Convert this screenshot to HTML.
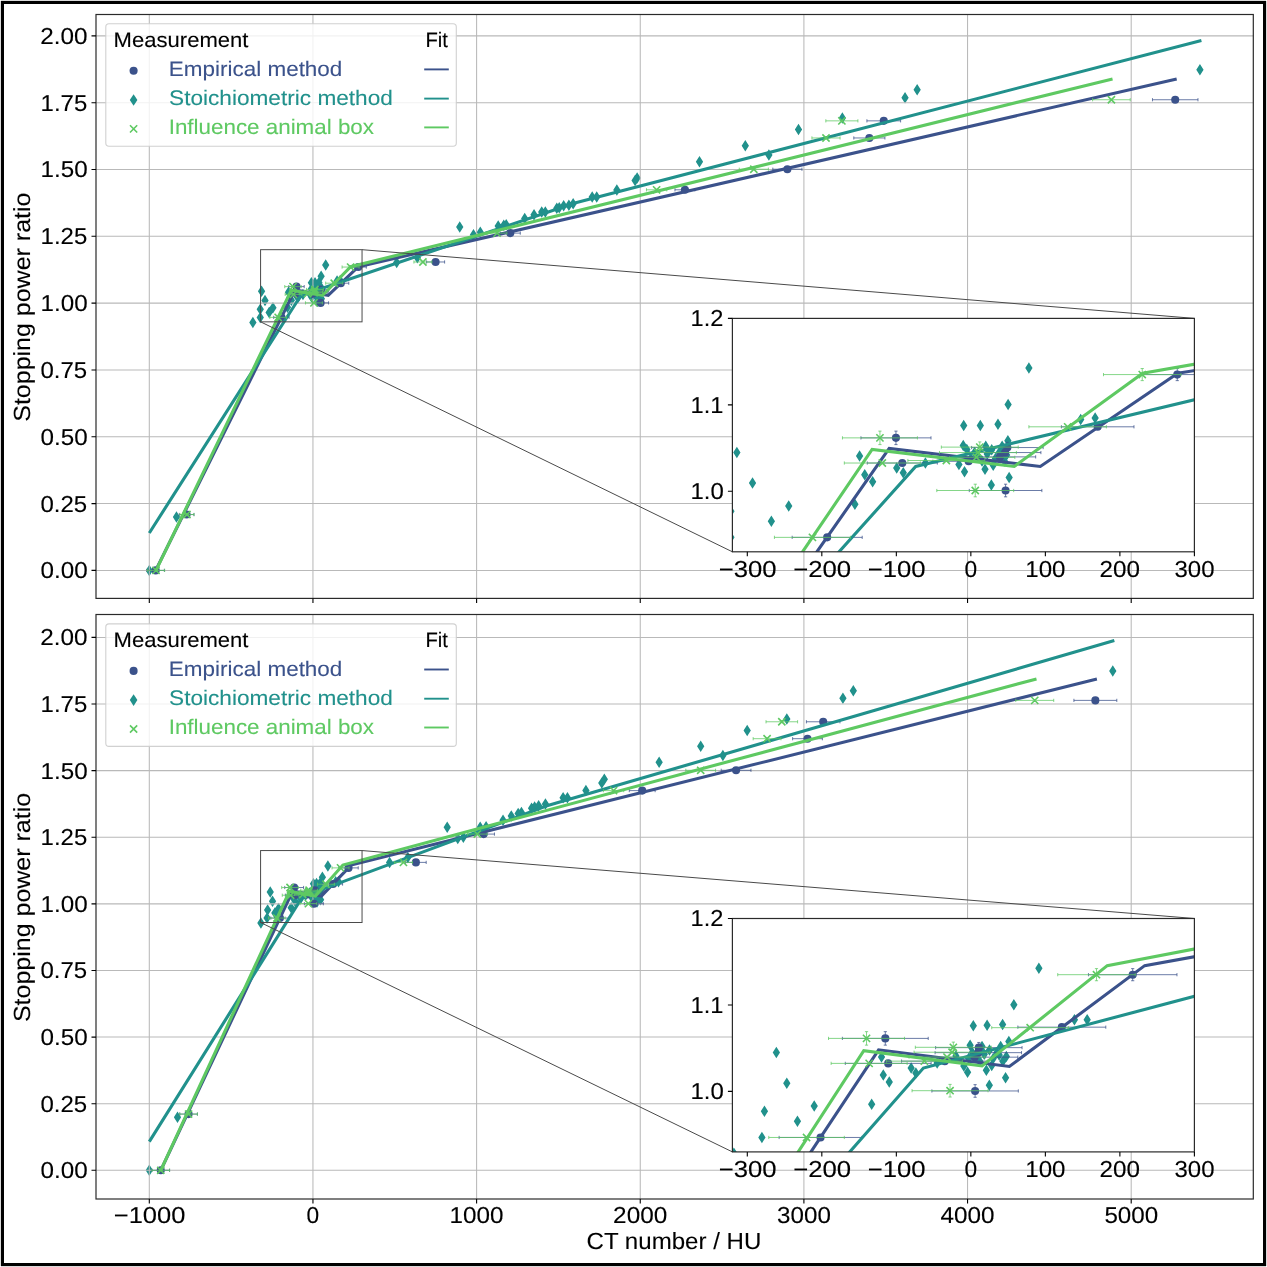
<!DOCTYPE html>
<html><head><meta charset="utf-8"><title>Stopping power ratio vs CT number</title>
<style>
html,body{margin:0;padding:0;background:#fff;}
svg{display:block;will-change:transform;}
text{font-family:"Liberation Sans",sans-serif;text-rendering:geometricPrecision;}
</style></head><body>
<svg width="1267" height="1267" viewBox="0 0 1267 1267">
<rect x="0" y="0" width="1267" height="1267" fill="#fff"/>
<defs>
<clipPath id="ax0"><rect x="96" y="14.5" width="1157.3" height="583.9"/></clipPath>
<clipPath id="in0"><rect x="732.4" y="318.4" width="462" height="233.4"/></clipPath>
<clipPath id="ax1"><rect x="96" y="614.5" width="1157.3" height="584.5"/></clipPath>
<clipPath id="in1"><rect x="732.4" y="918.5" width="462" height="233.4"/></clipPath>
</defs>
<!-- panel 1 -->
<g clip-path="url(#ax0)"><path d="M149.3 564.65l3.65 5.75l-3.65 5.75l-3.65 -5.75zM176.47 511.2l3.65 5.75l-3.65 5.75l-3.65 -5.75zM252.89 316.76l3.65 5.75l-3.65 5.75l-3.65 -5.75zM260.25 311.63l3.65 5.75l-3.65 5.75l-3.65 -5.75zM260.25 303.55l3.65 5.75l-3.65 5.75l-3.65 -5.75zM269.14 306.63l3.65 5.75l-3.65 5.75l-3.65 -5.75zM272.95 301.92l3.65 5.75l-3.65 5.75l-3.65 -5.75zM265 294.84l3.65 5.75l-3.65 5.75l-3.65 -5.75zM261.56 285.38l3.65 5.75l-3.65 5.75l-3.65 -5.75zM288.52 286.48l3.65 5.75l-3.65 5.75l-3.65 -5.75zM289.65 292.3l3.65 5.75l-3.65 5.75l-3.65 -5.75zM291.38 294.44l3.65 5.75l-3.65 5.75l-3.65 -5.75zM287.49 301.39l3.65 5.75l-3.65 5.75l-3.65 -5.75zM296.67 290.16l3.65 5.75l-3.65 5.75l-3.65 -5.75zM298.11 291.66l3.65 5.75l-3.65 5.75l-3.65 -5.75zM302.97 288.64l3.65 5.75l-3.65 5.75l-3.65 -5.75zM325.7 259.29l3.65 5.75l-3.65 5.75l-3.65 -5.75zM321.13 270.57l3.65 5.75l-3.65 5.75l-3.65 -5.75zM311.38 277.04l3.65 5.75l-3.65 5.75l-3.65 -5.75zM315.03 277.04l3.65 5.75l-3.65 5.75l-3.65 -5.75zM318.91 276.64l3.65 5.75l-3.65 5.75l-3.65 -5.75zM321.08 281.77l3.65 5.75l-3.65 5.75l-3.65 -5.75zM311.28 283.21l3.65 5.75l-3.65 5.75l-3.65 -5.75zM312.07 284.44l3.65 5.75l-3.65 5.75l-3.65 -5.75zM310.33 289.09l3.65 5.75l-3.65 5.75l-3.65 -5.75zM311.56 291.37l3.65 5.75l-3.65 5.75l-3.65 -5.75zM316.06 290.54l3.65 5.75l-3.65 5.75l-3.65 -5.75zM317.45 295.43l3.65 5.75l-3.65 5.75l-3.65 -5.75zM321.36 293.1l3.65 5.75l-3.65 5.75l-3.65 -5.75zM313.77 285.35l3.65 5.75l-3.65 5.75l-3.65 -5.75zM314.59 286.69l3.65 5.75l-3.65 5.75l-3.65 -5.75zM315.4 288.03l3.65 5.75l-3.65 5.75l-3.65 -5.75zM316.55 285.89l3.65 5.75l-3.65 5.75l-3.65 -5.75zM317.53 284.55l3.65 5.75l-3.65 5.75l-3.65 -5.75zM318.35 287.22l3.65 5.75l-3.65 5.75l-3.65 -5.75zM319.17 285.35l3.65 5.75l-3.65 5.75l-3.65 -5.75zM319.82 283.48l3.65 5.75l-3.65 5.75l-3.65 -5.75zM320.31 288.03l3.65 5.75l-3.65 5.75l-3.65 -5.75zM317.86 289.36l3.65 5.75l-3.65 5.75l-3.65 -5.75zM316.22 283.48l3.65 5.75l-3.65 5.75l-3.65 -5.75zM312.95 287.22l3.65 5.75l-3.65 5.75l-3.65 -5.75zM320.81 286.15l3.65 5.75l-3.65 5.75l-3.65 -5.75zM337.07 275.2l3.65 5.75l-3.65 5.75l-3.65 -5.75zM340.25 274.74l3.65 5.75l-3.65 5.75l-3.65 -5.75zM396.71 256.86l3.65 5.75l-3.65 5.75l-3.65 -5.75zM417.36 251.94l3.65 5.75l-3.65 5.75l-3.65 -5.75zM459.74 221.21l3.65 5.75l-3.65 5.75l-3.65 -5.75zM473.49 229.07l3.65 5.75l-3.65 5.75l-3.65 -5.75zM480.3 226.55l3.65 5.75l-3.65 5.75l-3.65 -5.75zM498.2 220.25l3.65 5.75l-3.65 5.75l-3.65 -5.75zM503.77 219.44l3.65 5.75l-3.65 5.75l-3.65 -5.75zM506.22 218.94l3.65 5.75l-3.65 5.75l-3.65 -5.75zM524.71 212.66l3.65 5.75l-3.65 5.75l-3.65 -5.75zM534.04 208.91l3.65 5.75l-3.65 5.75l-3.65 -5.75zM541.73 206.35l3.65 5.75l-3.65 5.75l-3.65 -5.75zM545.33 206.35l3.65 5.75l-3.65 5.75l-3.65 -5.75zM556.79 202.55l3.65 5.75l-3.65 5.75l-3.65 -5.75zM559.24 202.04l3.65 5.75l-3.65 5.75l-3.65 -5.75zM563.66 200.09l3.65 5.75l-3.65 5.75l-3.65 -5.75zM568.9 199.56l3.65 5.75l-3.65 5.75l-3.65 -5.75zM573.15 198.06l3.65 5.75l-3.65 5.75l-3.65 -5.75zM592.2 191.14l3.65 5.75l-3.65 5.75l-3.65 -5.75zM596.72 191.14l3.65 5.75l-3.65 5.75l-3.65 -5.75zM616.85 184.32l3.65 5.75l-3.65 5.75l-3.65 -5.75zM635.1 174.76l3.65 5.75l-3.65 5.75l-3.65 -5.75zM637.14 172.3l3.65 5.75l-3.65 5.75l-3.65 -5.75zM699.49 156.05l3.65 5.75l-3.65 5.75l-3.65 -5.75zM745.31 139.96l3.65 5.75l-3.65 5.75l-3.65 -5.75zM768.88 149.31l3.65 5.75l-3.65 5.75l-3.65 -5.75zM798.5 123.65l3.65 5.75l-3.65 5.75l-3.65 -5.75zM842.36 112.16l3.65 5.75l-3.65 5.75l-3.65 -5.75zM905.04 91.96l3.65 5.75l-3.65 5.75l-3.65 -5.75zM917.15 84.1l3.65 5.75l-3.65 5.75l-3.65 -5.75zM1199.93 64.05l3.65 5.75l-3.65 5.75l-3.65 -5.75z" fill="#21918c"/></g>
<path d="M149.3 14.5V598.4M312.95 14.5V598.4M476.6 14.5V598.4M640.25 14.5V598.4M803.9 14.5V598.4M967.55 14.5V598.4M1131.2 14.5V598.4M96 570.4H1253.3M96 503.58H1253.3M96 436.76H1253.3M96 369.95H1253.3M96 303.13H1253.3M96 236.31H1253.3M96 169.5H1253.3M96 102.68H1253.3M96 35.86H1253.3" stroke="#b9b9b9" stroke-width="1.05" fill="none"/>
<g clip-path="url(#ax0)">
<path d="M147.01 570.4H164.36M147.01 568.8V572M164.36 568.8V572M179.25 514.54H193.98M179.25 512.94V516.14M193.98 512.94V516.14M273.71 317.38H289.09M273.71 315.78V318.98M289.09 315.78V318.98M288.81 286.61H304.19M288.81 285.01V288.21M304.19 285.01V288.21M290.2 294.39H305.59M290.2 292.79V295.99M305.59 292.79V295.99M313.11 289.61H328.82M313.11 288.01V291.21M328.82 288.01V291.21M312.62 291.16H328.33M312.62 289.56V292.76M328.33 289.56V292.76M311.48 292.49H327.19M311.48 290.89V294.09M327.19 290.89V294.09M312.61 302.89H328.55M312.61 301.29V304.49M328.55 301.29V304.49M304.6 293.86H320.31M304.6 292.26V295.46M320.31 292.26V295.46M332.83 283.19H348.77M332.83 281.59V284.79M348.77 281.59V284.79M350.26 267.05H366.3M350.26 265.45V268.65M366.3 265.45V268.65M426.6 261.97H444.61M426.6 260.37V263.57M444.61 260.37V263.57M500.33 233.11H520.29M500.33 231.51V234.71M520.29 231.51V234.71M674.94 189.81H694.91M674.94 188.21V191.41M694.91 188.21V191.41M772.81 169.23H801.94M772.81 167.63V170.83M801.94 167.63V170.83M853.81 137.96H884.91M853.81 136.36V139.56M884.91 136.36V139.56M866.91 120.85H900.62M866.91 119.25V122.45M900.62 119.25V122.45M1152.47 99.74H1197.97M1152.47 98.14V101.34M1197.97 98.14V101.34" stroke="#3b528b" stroke-width="0.95" fill="none" stroke-opacity="0.8"/>
<g fill="#3b528b"><circle cx="155.68" cy="570.4" r="4.05"/><circle cx="186.61" cy="514.54" r="4.05"/><circle cx="281.4" cy="317.38" r="4.05"/><circle cx="296.5" cy="286.61" r="4.05"/><circle cx="297.89" cy="294.39" r="4.05"/><circle cx="320.97" cy="289.61" r="4.05"/><circle cx="320.48" cy="291.16" r="4.05"/><circle cx="319.33" cy="292.49" r="4.05"/><circle cx="320.58" cy="302.89" r="4.05"/><circle cx="312.46" cy="293.86" r="4.05"/><circle cx="340.8" cy="283.19" r="4.05"/><circle cx="358.28" cy="267.05" r="4.05"/><circle cx="435.61" cy="261.97" r="4.05"/><circle cx="510.31" cy="233.11" r="4.05"/><circle cx="684.93" cy="189.81" r="4.05"/><circle cx="787.37" cy="169.23" r="4.05"/><circle cx="869.36" cy="137.96" r="4.05"/><circle cx="883.76" cy="120.85" r="4.05"/><circle cx="1175.22" cy="99.74" r="4.05"/></g>
<polyline points="155.68,570.4 295.01,289.87 328.2,295.46 358.4,266.65 1176.69,78.89" fill="none" stroke="#3b528b" stroke-width="3.1" stroke-linejoin="miter" stroke-linecap="butt"/>
<polyline points="149.3,532.98 300.84,295.46 574.79,203.04 1201.41,40.4" fill="none" stroke="#21918c" stroke-width="3.1" stroke-linejoin="miter" stroke-linecap="butt"/>
<path d="M147.34 570.4H164.68M147.34 568.8V572M164.68 568.8V572M179.9 514.54H193.98M179.9 512.94V516.14M193.98 512.94V516.14M269.81 317.38H286.5M269.81 315.78V318.98M286.5 315.78V318.98M284.75 286.61H301.22M284.75 285.01V288.21M301.22 285.01V288.21M285.16 294.39H301.85M285.16 292.79V295.99M301.85 292.79V295.99M306.47 289.47H323.36M306.47 287.87V291.07M323.36 287.87V291.07M306.06 291.16H322.95M306.06 289.56V292.76M322.95 289.56V292.76M305.72 292.63H322.61M305.72 291.03V294.23M322.61 291.03V294.23M305.47 302.89H322.36M305.47 301.29V304.49M322.36 301.29V304.49M299.12 293.62H316.01M299.12 292.02V295.22M316.01 292.02V295.22M325.7 283.19H342.72M325.7 281.59V284.79M342.72 281.59V284.79M342.08 267.05H359.1M342.08 265.45V268.65M359.1 265.45V268.65M413.92 261.97H431.92M413.92 260.37V263.57M431.92 260.37V263.57M487.24 233.11H506.88M487.24 231.51V234.71M506.88 231.51V234.71M646.47 189.81H666.76M646.47 188.21V191.41M666.76 188.21V191.41M739.26 169.23H768.39M739.26 167.63V170.83M768.39 167.63V170.83M811.92 137.96H840.07M811.92 136.36V139.56M840.07 136.36V139.56M825.83 120.85H857.9M825.83 119.25V122.45M857.9 119.25V122.45M1092.58 99.74H1130.22M1092.58 98.14V101.34M1130.22 98.14V101.34" stroke="#5ec962" stroke-width="0.95" fill="none" stroke-opacity="0.8"/>
<path d="M152.41 566.8l7.2 7.2m0 -7.2l-7.2 7.2M183.34 510.94l7.2 7.2m0 -7.2l-7.2 7.2M274.56 313.78l7.2 7.2m0 -7.2l-7.2 7.2M289.38 283.01l7.2 7.2m0 -7.2l-7.2 7.2M289.91 290.79l7.2 7.2m0 -7.2l-7.2 7.2M311.31 285.87l7.2 7.2m0 -7.2l-7.2 7.2M310.9 287.56l7.2 7.2m0 -7.2l-7.2 7.2M310.56 289.03l7.2 7.2m0 -7.2l-7.2 7.2M310.32 299.29l7.2 7.2m0 -7.2l-7.2 7.2M303.97 290.02l7.2 7.2m0 -7.2l-7.2 7.2M330.61 279.59l7.2 7.2m0 -7.2l-7.2 7.2M346.99 263.45l7.2 7.2m0 -7.2l-7.2 7.2M419.32 258.37l7.2 7.2m0 -7.2l-7.2 7.2M493.46 229.51l7.2 7.2m0 -7.2l-7.2 7.2M653.01 186.21l7.2 7.2m0 -7.2l-7.2 7.2M750.22 165.63l7.2 7.2m0 -7.2l-7.2 7.2M822.39 134.36l7.2 7.2m0 -7.2l-7.2 7.2M838.27 117.25l7.2 7.2m0 -7.2l-7.2 7.2M1107.8 96.14l7.2 7.2m0 -7.2l-7.2 7.2" stroke="#5ec962" stroke-width="1.6" fill="none"/>
<polyline points="156.01,570.4 291.27,290.19 322.47,295.46 350.69,266.65 1112.54,78.89" fill="none" stroke="#5ec962" stroke-width="3.1" stroke-linejoin="miter" stroke-linecap="butt"/>
</g>
<g stroke="#4a4a4a" stroke-width="1" fill="none">
<rect x="260.58" y="249.68" width="101.46" height="72.16"/>
<path d="M362.04 249.68L1194.4 318.4M260.58 321.84L732.4 551.8"/>
</g>
<rect x="96" y="14.5" width="1157.3" height="583.9" fill="none" stroke="#2a2a2a" stroke-width="1.2"/>
<path d="M149.3 598.4v4.5M312.95 598.4v4.5M476.6 598.4v4.5M640.25 598.4v4.5M803.9 598.4v4.5M967.55 598.4v4.5M1131.2 598.4v4.5M96 570.4h-4.5M96 503.58h-4.5M96 436.76h-4.5M96 369.95h-4.5M96 303.13h-4.5M96 236.31h-4.5M96 169.5h-4.5M96 102.68h-4.5M96 35.86h-4.5" stroke="#000" stroke-width="1.1" fill="none"/>
<text x="40.48" y="578.35" font-size="23.03" fill="#000" stroke="#000" stroke-width="0.1" textLength="47.13" lengthAdjust="spacingAndGlyphs">0.00</text>
<text x="40.49" y="511.53" font-size="23.03" fill="#000" stroke="#000" stroke-width="0.1" textLength="46.73" lengthAdjust="spacingAndGlyphs">0.25</text>
<text x="40.48" y="444.71" font-size="23.03" fill="#000" stroke="#000" stroke-width="0.1" textLength="47.13" lengthAdjust="spacingAndGlyphs">0.50</text>
<text x="40.49" y="377.9" font-size="23.03" fill="#000" stroke="#000" stroke-width="0.1" textLength="46.73" lengthAdjust="spacingAndGlyphs">0.75</text>
<text x="40.53" y="311.08" font-size="23.03" fill="#000" stroke="#000" stroke-width="0.1" textLength="47.08" lengthAdjust="spacingAndGlyphs">1.00</text>
<text x="40.55" y="244.26" font-size="23.03" fill="#000" stroke="#000" stroke-width="0.1" textLength="46.67" lengthAdjust="spacingAndGlyphs">1.25</text>
<text x="40.53" y="177.44" font-size="23.03" fill="#000" stroke="#000" stroke-width="0.1" textLength="47.08" lengthAdjust="spacingAndGlyphs">1.50</text>
<text x="40.55" y="110.63" font-size="23.03" fill="#000" stroke="#000" stroke-width="0.1" textLength="46.67" lengthAdjust="spacingAndGlyphs">1.75</text>
<text x="40.37" y="43.81" font-size="23.03" fill="#000" stroke="#000" stroke-width="0.1" textLength="47.25" lengthAdjust="spacingAndGlyphs">2.00</text>
<text x="-114.52" y="0" font-size="23.35" fill="#000" stroke="#000" stroke-width="0.1" textLength="229.21" lengthAdjust="spacingAndGlyphs" transform="translate(30.3 307.25) rotate(-90)">Stopping power ratio</text>
<rect x="105.8" y="23.8" width="350.5" height="122.5" rx="3.2" fill="#fff" fill-opacity="0.8" stroke="#cccccc" stroke-opacity="0.9" stroke-width="1.1"/>
<text x="113.62" y="46.8" font-size="21" fill="#000" stroke="#000" stroke-width="0.1" textLength="134.8" lengthAdjust="spacingAndGlyphs">Measurement</text>
<text x="425.47" y="46.8" font-size="21" fill="#000" stroke="#000" stroke-width="0.1" textLength="22.51" lengthAdjust="spacingAndGlyphs">Fit</text>
<text x="168.89" y="75.6" font-size="21" fill="#3b528b" stroke="#3b528b" stroke-width="0.1" textLength="173.47" lengthAdjust="spacingAndGlyphs">Empirical method</text>
<path d="M424.2 69.4H448.8" stroke="#3b528b" stroke-width="1.9"/>
<text x="169.07" y="104.8" font-size="21" fill="#21918c" stroke="#21918c" stroke-width="0.1" textLength="223.77" lengthAdjust="spacingAndGlyphs">Stoichiometric method</text>
<path d="M424.2 98.6H448.8" stroke="#21918c" stroke-width="1.9"/>
<text x="168.67" y="134" font-size="21" fill="#5ec962" stroke="#5ec962" stroke-width="0.1" textLength="205.37" lengthAdjust="spacingAndGlyphs">Influence animal box</text>
<path d="M424.2 127.4H448.8" stroke="#5ec962" stroke-width="1.9"/>
<circle cx="133.6" cy="70.8" r="4.05" fill="#3b528b"/>
<path d="M133.6 94.15l3.8 5.85l-3.8 5.85l-3.8 -5.85z" fill="#21918c"/>
<path d="M130 125.3l7.2 7.2m0 -7.2l-7.2 7.2" stroke="#5ec962" stroke-width="1.6" fill="none"/>
<rect x="732.4" y="318.4" width="462" height="233.4" fill="#fff"/>
<g clip-path="url(#in0)">
<path d="M225.69 1349.98l3.65 5.75l-3.65 5.75l-3.65 -5.75zM349.39 1177.09l3.65 5.75l-3.65 5.75l-3.65 -5.75zM697.38 548.21l3.65 5.75l-3.65 5.75l-3.65 -5.75zM730.91 531.61l3.65 5.75l-3.65 5.75l-3.65 -5.75zM730.91 505.51l3.65 5.75l-3.65 5.75l-3.65 -5.75zM771.37 515.45l3.65 5.75l-3.65 5.75l-3.65 -5.75zM788.73 500.23l3.65 5.75l-3.65 5.75l-3.65 -5.75zM752.52 477.33l3.65 5.75l-3.65 5.75l-3.65 -5.75zM736.87 446.73l3.65 5.75l-3.65 5.75l-3.65 -5.75zM859.6 450.27l3.65 5.75l-3.65 5.75l-3.65 -5.75zM864.74 469.11l3.65 5.75l-3.65 5.75l-3.65 -5.75zM872.64 476.03l3.65 5.75l-3.65 5.75l-3.65 -5.75zM854.9 498.51l3.65 5.75l-3.65 5.75l-3.65 -5.75zM896.71 462.2l3.65 5.75l-3.65 5.75l-3.65 -5.75zM903.27 467.04l3.65 5.75l-3.65 5.75l-3.65 -5.75zM925.4 457.27l3.65 5.75l-3.65 5.75l-3.65 -5.75zM1028.9 362.36l3.65 5.75l-3.65 5.75l-3.65 -5.75zM1008.11 398.84l3.65 5.75l-3.65 5.75l-3.65 -5.75zM963.7 419.75l3.65 5.75l-3.65 5.75l-3.65 -5.75zM980.32 419.75l3.65 5.75l-3.65 5.75l-3.65 -5.75zM997.98 418.46l3.65 5.75l-3.65 5.75l-3.65 -5.75zM1007.89 435.06l3.65 5.75l-3.65 5.75l-3.65 -5.75zM963.25 439.72l3.65 5.75l-3.65 5.75l-3.65 -5.75zM966.83 443.7l3.65 5.75l-3.65 5.75l-3.65 -5.75zM958.93 458.74l3.65 5.75l-3.65 5.75l-3.65 -5.75zM964.52 466.09l3.65 5.75l-3.65 5.75l-3.65 -5.75zM985.01 463.41l3.65 5.75l-3.65 5.75l-3.65 -5.75zM991.34 479.23l3.65 5.75l-3.65 5.75l-3.65 -5.75zM1009.15 471.71l3.65 5.75l-3.65 5.75l-3.65 -5.75zM974.58 446.64l3.65 5.75l-3.65 5.75l-3.65 -5.75zM978.3 450.96l3.65 5.75l-3.65 5.75l-3.65 -5.75zM982.03 455.28l3.65 5.75l-3.65 5.75l-3.65 -5.75zM987.25 448.37l3.65 5.75l-3.65 5.75l-3.65 -5.75zM991.72 444.05l3.65 5.75l-3.65 5.75l-3.65 -5.75zM995.44 452.69l3.65 5.75l-3.65 5.75l-3.65 -5.75zM999.17 446.64l3.65 5.75l-3.65 5.75l-3.65 -5.75zM1002.15 440.59l3.65 5.75l-3.65 5.75l-3.65 -5.75zM1004.38 455.28l3.65 5.75l-3.65 5.75l-3.65 -5.75zM993.21 459.61l3.65 5.75l-3.65 5.75l-3.65 -5.75zM985.75 440.59l3.65 5.75l-3.65 5.75l-3.65 -5.75zM970.85 452.69l3.65 5.75l-3.65 5.75l-3.65 -5.75zM1006.62 449.23l3.65 5.75l-3.65 5.75l-3.65 -5.75zM1080.69 413.79l3.65 5.75l-3.65 5.75l-3.65 -5.75zM1095.14 412.32l3.65 5.75l-3.65 5.75l-3.65 -5.75zM1352.23 354.49l3.65 5.75l-3.65 5.75l-3.65 -5.75zM1446.26 338.58l3.65 5.75l-3.65 5.75l-3.65 -5.75zM1639.26 239.17l3.65 5.75l-3.65 5.75l-3.65 -5.75zM1701.85 264.59l3.65 5.75l-3.65 5.75l-3.65 -5.75zM1732.85 256.46l3.65 5.75l-3.65 5.75l-3.65 -5.75zM1814.37 236.06l3.65 5.75l-3.65 5.75l-3.65 -5.75zM1839.71 233.47l3.65 5.75l-3.65 5.75l-3.65 -5.75zM1850.89 231.82l3.65 5.75l-3.65 5.75l-3.65 -5.75zM1935.09 211.51l3.65 5.75l-3.65 5.75l-3.65 -5.75zM1977.56 199.41l3.65 5.75l-3.65 5.75l-3.65 -5.75zM2012.59 191.11l3.65 5.75l-3.65 5.75l-3.65 -5.75zM2028.98 191.11l3.65 5.75l-3.65 5.75l-3.65 -5.75zM2081.14 178.83l3.65 5.75l-3.65 5.75l-3.65 -5.75zM2092.32 177.19l3.65 5.75l-3.65 5.75l-3.65 -5.75zM2112.44 170.88l3.65 5.75l-3.65 5.75l-3.65 -5.75zM2136.28 169.15l3.65 5.75l-3.65 5.75l-3.65 -5.75zM2155.66 164.31l3.65 5.75l-3.65 5.75l-3.65 -5.75zM2242.39 141.92l3.65 5.75l-3.65 5.75l-3.65 -5.75zM2262.96 141.92l3.65 5.75l-3.65 5.75l-3.65 -5.75zM2354.62 119.88l3.65 5.75l-3.65 5.75l-3.65 -5.75zM2437.7 88.93l3.65 5.75l-3.65 5.75l-3.65 -5.75zM2447.02 80.98l3.65 5.75l-3.65 5.75l-3.65 -5.75zM2730.92 28.42l3.65 5.75l-3.65 5.75l-3.65 -5.75zM2939.57 -23.62l3.65 5.75l-3.65 5.75l-3.65 -5.75zM3046.87 6.64l3.65 5.75l-3.65 5.75l-3.65 -5.75zM3181.75 -76.35l3.65 5.75l-3.65 5.75l-3.65 -5.75zM3381.45 -113.52l3.65 5.75l-3.65 5.75l-3.65 -5.75zM3666.85 -178.87l3.65 5.75l-3.65 5.75l-3.65 -5.75zM3721.99 -204.29l3.65 5.75l-3.65 5.75l-3.65 -5.75zM5009.63 -269.12l3.65 5.75l-3.65 5.75l-3.65 -5.75z" fill="#21918c"/>
<path d="M215.26 1355.73H294.25M215.26 1354.13V1357.33M294.25 1354.13V1357.33M362.05 1175.06H429.12M362.05 1173.46V1176.66M429.12 1173.46V1176.66M792.16 537.36H862.21M792.16 535.76V538.96M862.21 535.76V538.96M860.94 437.87H930.99M860.94 436.27V439.47M930.99 436.27V439.47M895.96 431.12V444.61M894.36 431.12H897.56M894.36 444.61H897.56M867.27 463.02H937.32M867.27 461.42V464.62M937.32 461.42V464.62M971.6 447.55H1043.13M971.6 445.95V449.15M1043.13 445.95V449.15M1007.36 442.36V452.73M1005.76 442.36H1008.96M1005.76 452.73H1008.96M969.36 452.56H1040.9M969.36 450.96V454.16M1040.9 450.96V454.16M964.15 456.88H1035.68M964.15 455.28V458.48M1035.68 455.28V458.48M969.29 490.51H1041.87M969.29 488.91V492.11M1041.87 488.91V492.11M1005.58 484.2V496.82M1003.98 484.2H1007.18M1003.98 496.82H1007.18M932.85 461.29H1004.38M932.85 459.69V462.89M1004.38 459.69V462.89M1061.39 426.8H1133.97M1061.39 425.2V428.4M1133.97 425.2V428.4M1140.75 374.59H1213.77M1140.75 372.99V376.19M1213.77 372.99V376.19M1177.26 368.54V380.64M1175.66 368.54H1178.86M1175.66 380.64H1178.86M1488.37 358.16H1570.33M1488.37 356.56V359.76M1570.33 356.56V359.76M1824.06 264.8H1914.97M1824.06 263.2V266.4M1914.97 263.2V266.4M2619.15 124.76H2710.06M2619.15 123.16V126.36M2710.06 123.16V126.36M3064.75 58.2H3197.39M3064.75 56.6V59.8M3197.39 56.6V59.8M3433.61 -42.94H3575.19M3433.61 -44.54V-41.34M3575.19 -44.54V-41.34M3493.22 -98.26H3646.73M3493.22 -99.86V-96.66M3646.73 -99.86V-96.66M4793.53 -166.55H5000.68M4793.53 -168.15V-164.95M5000.68 -168.15V-164.95" stroke="#3b528b" stroke-width="0.95" fill="none" stroke-opacity="0.8"/>
<g fill="#3b528b"><circle cx="254.75" cy="1355.73" r="4.05"/><circle cx="395.59" cy="1175.06" r="4.05"/><circle cx="827.18" cy="537.36" r="4.05"/><circle cx="895.96" cy="437.87" r="4.05"/><circle cx="902.3" cy="463.02" r="4.05"/><circle cx="1007.36" cy="447.55" r="4.05"/><circle cx="1005.13" cy="452.56" r="4.05"/><circle cx="999.91" cy="456.88" r="4.05"/><circle cx="1005.58" cy="490.51" r="4.05"/><circle cx="968.62" cy="461.29" r="4.05"/><circle cx="1097.68" cy="426.8" r="4.05"/><circle cx="1177.26" cy="374.59" r="4.05"/><circle cx="1529.35" cy="358.16" r="4.05"/><circle cx="1869.52" cy="264.8" r="4.05"/><circle cx="2664.6" cy="124.76" r="4.05"/><circle cx="3131.07" cy="58.2" r="4.05"/><circle cx="3504.4" cy="-42.94" r="4.05"/><circle cx="3569.97" cy="-98.26" r="4.05"/><circle cx="4897.11" cy="-166.55" r="4.05"/></g>
<polyline points="254.75,1355.73 889.18,448.41 1040.3,466.48 1177.78,373.29 4903.81,-233.98" fill="none" stroke="#3b528b" stroke-width="3.1" stroke-linejoin="miter" stroke-linecap="butt"/>
<polyline points="225.69,1234.71 915.71,466.48 2163.11,167.55 5016.33,-358.46" fill="none" stroke="#21918c" stroke-width="3.1" stroke-linejoin="miter" stroke-linecap="butt"/>
<path d="M216.75 1355.73H295.74M216.75 1354.13V1357.33M295.74 1354.13V1357.33M365.04 1175.06H429.12M365.04 1173.46V1176.66M429.12 1173.46V1176.66M774.43 537.36H850.43M774.43 535.76V538.96M850.43 535.76V538.96M842.46 437.87H917.42M842.46 436.27V439.47M917.42 436.27V439.47M879.94 431.12V444.61M878.34 431.12H881.54M878.34 444.61H881.54M844.32 463.02H920.33M844.32 461.42V464.62M920.33 461.42V464.62M941.34 447.12H1018.24M941.34 445.52V448.72M1018.24 445.52V448.72M979.79 441.93V452.3M978.19 441.93H981.39M978.19 452.3H981.39M939.48 452.56H1016.38M939.48 450.96V454.16M1016.38 450.96V454.16M937.92 457.32H1014.82M937.92 455.72V458.92M1014.82 455.72V458.92M936.8 490.51H1013.7M936.8 488.91V492.11M1013.7 488.91V492.11M975.25 484.2V496.82M973.65 484.2H976.85M973.65 496.82H976.85M907.89 460.51H984.79M907.89 458.91V462.11M984.79 458.91V462.11M1028.9 426.8H1106.4M1028.9 425.2V428.4M1106.4 425.2V428.4M1103.49 374.59H1180.99M1103.49 372.99V376.19M1180.99 372.99V376.19M1142.24 368.54V380.64M1140.64 368.54H1143.84M1140.64 380.64H1143.84M1430.62 358.16H1512.58M1430.62 356.56V359.76M1512.58 356.56V359.76M1764.45 264.8H1853.87M1764.45 263.2V266.4M1853.87 263.2V266.4M2489.49 124.76H2581.89M2489.49 123.16V126.36M2581.89 123.16V126.36M2912 58.2H3044.64M2912 56.6V59.8M3044.64 56.6V59.8M3242.85 -42.94H3371.02M3242.85 -44.54V-41.34M3371.02 -44.54V-41.34M3306.19 -98.26H3452.24M3306.19 -99.86V-96.66M3452.24 -99.86V-96.66M4520.8 -166.55H4692.19M4520.8 -168.15V-164.95M4692.19 -168.15V-164.95" stroke="#5ec962" stroke-width="0.95" fill="none" stroke-opacity="0.8"/>
<path d="M252.64 1352.13l7.2 7.2m0 -7.2l-7.2 7.2M393.48 1171.46l7.2 7.2m0 -7.2l-7.2 7.2M808.83 533.76l7.2 7.2m0 -7.2l-7.2 7.2M876.34 434.27l7.2 7.2m0 -7.2l-7.2 7.2M878.73 459.42l7.2 7.2m0 -7.2l-7.2 7.2M976.19 443.52l7.2 7.2m0 -7.2l-7.2 7.2M974.33 448.96l7.2 7.2m0 -7.2l-7.2 7.2M972.77 453.72l7.2 7.2m0 -7.2l-7.2 7.2M971.65 486.91l7.2 7.2m0 -7.2l-7.2 7.2M942.74 456.91l7.2 7.2m0 -7.2l-7.2 7.2M1064.05 423.2l7.2 7.2m0 -7.2l-7.2 7.2M1138.64 370.99l7.2 7.2m0 -7.2l-7.2 7.2M1468 354.56l7.2 7.2m0 -7.2l-7.2 7.2M1805.56 261.2l7.2 7.2m0 -7.2l-7.2 7.2M2532.09 121.16l7.2 7.2m0 -7.2l-7.2 7.2M2974.72 54.6l7.2 7.2m0 -7.2l-7.2 7.2M3303.33 -46.54l7.2 7.2m0 -7.2l-7.2 7.2M3375.61 -101.86l7.2 7.2m0 -7.2l-7.2 7.2M4602.89 -170.15l7.2 7.2m0 -7.2l-7.2 7.2" stroke="#5ec962" stroke-width="1.6" fill="none"/>
<polyline points="256.24,1355.73 872.12,449.45 1014.22,466.48 1142.69,373.29 4611.71,-233.98" fill="none" stroke="#5ec962" stroke-width="3.1" stroke-linejoin="miter" stroke-linecap="butt"/>
</g>
<rect x="732.4" y="318.4" width="462" height="233.4" fill="none" stroke="#2b2b2b" stroke-width="1.2"/>
<path d="M747.3 551.8v4.5M821.82 551.8v4.5M896.34 551.8v4.5M970.85 551.8v4.5M1045.37 551.8v4.5M1119.88 551.8v4.5M1194.4 551.8v4.5M732.4 491.29h-4.5M732.4 404.84h-4.5M732.4 318.4h-4.5" stroke="#000" stroke-width="1.1" fill="none"/>
<text x="718.66" y="576.5" font-size="23.03" fill="#000" stroke="#000" stroke-width="0.1" textLength="57.88" lengthAdjust="spacingAndGlyphs">−300</text>
<text x="793.18" y="576.5" font-size="23.03" fill="#000" stroke="#000" stroke-width="0.1" textLength="57.88" lengthAdjust="spacingAndGlyphs">−200</text>
<text x="867.69" y="576.5" font-size="23.03" fill="#000" stroke="#000" stroke-width="0.1" textLength="57.88" lengthAdjust="spacingAndGlyphs">−100</text>
<text x="964.51" y="576.5" font-size="23.03" fill="#000" stroke="#000" stroke-width="0.1" textLength="12.66" lengthAdjust="spacingAndGlyphs">0</text>
<text x="1025.29" y="576.5" font-size="23.03" fill="#000" stroke="#000" stroke-width="0.1" textLength="40.2" lengthAdjust="spacingAndGlyphs">100</text>
<text x="1099.64" y="576.5" font-size="23.03" fill="#000" stroke="#000" stroke-width="0.1" textLength="40.38" lengthAdjust="spacingAndGlyphs">200</text>
<text x="1174.52" y="576.5" font-size="23.03" fill="#000" stroke="#000" stroke-width="0.1" textLength="40" lengthAdjust="spacingAndGlyphs">300</text>
<text x="690.49" y="499.24" font-size="23.03" fill="#000" stroke="#000" stroke-width="0.1" textLength="33.31" lengthAdjust="spacingAndGlyphs">1.0</text>
<text x="690.51" y="412.79" font-size="23.03" fill="#000" stroke="#000" stroke-width="0.1" textLength="32.95" lengthAdjust="spacingAndGlyphs">1.1</text>
<text x="690.52" y="326.35" font-size="23.03" fill="#000" stroke="#000" stroke-width="0.1" textLength="32.8" lengthAdjust="spacingAndGlyphs">1.2</text>
<!-- panel 2 -->
<g clip-path="url(#ax1)"><path d="M149.3 1164.55l3.65 5.75l-3.65 5.75l-3.65 -5.75zM177.5 1111.53l3.65 5.75l-3.65 5.75l-3.65 -5.75zM260.91 917.15l3.65 5.75l-3.65 5.75l-3.65 -5.75zM267.06 912.3l3.65 5.75l-3.65 5.75l-3.65 -5.75zM267.62 904.25l3.65 5.75l-3.65 5.75l-3.65 -5.75zM274.87 907.32l3.65 5.75l-3.65 5.75l-3.65 -5.75zM278.55 902.63l3.65 5.75l-3.65 5.75l-3.65 -5.75zM272.53 895.57l3.65 5.75l-3.65 5.75l-3.65 -5.75zM270.24 886.14l3.65 5.75l-3.65 5.75l-3.65 -5.75zM293.33 887.52l3.65 5.75l-3.65 5.75l-3.65 -5.75zM293.72 893.04l3.65 5.75l-3.65 5.75l-3.65 -5.75zM295.03 895.17l3.65 5.75l-3.65 5.75l-3.65 -5.75zM291.17 902.1l3.65 5.75l-3.65 5.75l-3.65 -5.75zM299.84 890.91l3.65 5.75l-3.65 5.75l-3.65 -5.75zM300.87 892.4l3.65 5.75l-3.65 5.75l-3.65 -5.75zM305.55 889.39l3.65 5.75l-3.65 5.75l-3.65 -5.75zM309.68 887.23l3.65 5.75l-3.65 5.75l-3.65 -5.75zM311.41 890.27l3.65 5.75l-3.65 5.75l-3.65 -5.75zM327.89 860.13l3.65 5.75l-3.65 5.75l-3.65 -5.75zM322.39 871.38l3.65 5.75l-3.65 5.75l-3.65 -5.75zM313.49 877.9l3.65 5.75l-3.65 5.75l-3.65 -5.75zM316.52 877.69l3.65 5.75l-3.65 5.75l-3.65 -5.75zM319.92 877.45l3.65 5.75l-3.65 5.75l-3.65 -5.75zM321.3 882.73l3.65 5.75l-3.65 5.75l-3.65 -5.75zM335.7 875.98l3.65 5.75l-3.65 5.75l-3.65 -5.75zM338.5 875.98l3.65 5.75l-3.65 5.75l-3.65 -5.75zM312.23 892.18l3.65 5.75l-3.65 5.75l-3.65 -5.75zM316.35 891.57l3.65 5.75l-3.65 5.75l-3.65 -5.75zM320.58 893.89l3.65 5.75l-3.65 5.75l-3.65 -5.75zM317.01 896.21l3.65 5.75l-3.65 5.75l-3.65 -5.75zM312.79 883.87l3.65 5.75l-3.65 5.75l-3.65 -5.75zM320.74 887.34l3.65 5.75l-3.65 5.75l-3.65 -5.75zM313.28 886.11l3.65 5.75l-3.65 5.75l-3.65 -5.75zM314.26 887.44l3.65 5.75l-3.65 5.75l-3.65 -5.75zM314.91 888.77l3.65 5.75l-3.65 5.75l-3.65 -5.75zM315.9 886.64l3.65 5.75l-3.65 5.75l-3.65 -5.75zM317.04 885.31l3.65 5.75l-3.65 5.75l-3.65 -5.75zM317.86 887.97l3.65 5.75l-3.65 5.75l-3.65 -5.75zM318.68 886.11l3.65 5.75l-3.65 5.75l-3.65 -5.75zM319.5 884.24l3.65 5.75l-3.65 5.75l-3.65 -5.75zM319.99 888.77l3.65 5.75l-3.65 5.75l-3.65 -5.75zM317.53 890.11l3.65 5.75l-3.65 5.75l-3.65 -5.75zM315.4 884.24l3.65 5.75l-3.65 5.75l-3.65 -5.75zM312.46 887.97l3.65 5.75l-3.65 5.75l-3.65 -5.75zM319.17 886.91l3.65 5.75l-3.65 5.75l-3.65 -5.75zM389.6 856.8l3.65 5.75l-3.65 5.75l-3.65 -5.75zM407.8 851.84l3.65 5.75l-3.65 5.75l-3.65 -5.75zM447.21 821.47l3.65 5.75l-3.65 5.75l-3.65 -5.75zM457.78 832.82l3.65 5.75l-3.65 5.75l-3.65 -5.75zM463.34 831.49l3.65 5.75l-3.65 5.75l-3.65 -5.75zM480.2 821.47l3.65 5.75l-3.65 5.75l-3.65 -5.75zM486.09 820.96l3.65 5.75l-3.65 5.75l-3.65 -5.75zM503.03 814.43l3.65 5.75l-3.65 5.75l-3.65 -5.75zM511.29 810.17l3.65 5.75l-3.65 5.75l-3.65 -5.75zM518.17 807.64l3.65 5.75l-3.65 5.75l-3.65 -5.75zM521.44 806.84l3.65 5.75l-3.65 5.75l-3.65 -5.75zM531.59 802.55l3.65 5.75l-3.65 5.75l-3.65 -5.75zM534.61 801.25l3.65 5.75l-3.65 5.75l-3.65 -5.75zM538.62 800.05l3.65 5.75l-3.65 5.75l-3.65 -5.75zM545.45 798.23l3.65 5.75l-3.65 5.75l-3.65 -5.75zM563.11 791.95l3.65 5.75l-3.65 5.75l-3.65 -5.75zM567.43 791.95l3.65 5.75l-3.65 5.75l-3.65 -5.75zM585.92 784.86l3.65 5.75l-3.65 5.75l-3.65 -5.75zM601.79 777.26l3.65 5.75l-3.65 5.75l-3.65 -5.75zM604.33 773.53l3.65 5.75l-3.65 5.75l-3.65 -5.75zM659.14 756.54l3.65 5.75l-3.65 5.75l-3.65 -5.75zM700.7 740.55l3.65 5.75l-3.65 5.75l-3.65 -5.75zM722.89 749.85l3.65 5.75l-3.65 5.75l-3.65 -5.75zM747.2 724.64l3.65 5.75l-3.65 5.75l-3.65 -5.75zM786.83 713.24l3.65 5.75l-3.65 5.75l-3.65 -5.75zM842.93 692.53l3.65 5.75l-3.65 5.75l-3.65 -5.75zM853.32 684.94l3.65 5.75l-3.65 5.75l-3.65 -5.75zM1112.79 665.36l3.65 5.75l-3.65 5.75l-3.65 -5.75z" fill="#21918c"/></g>
<path d="M149.3 614.5V1199M312.95 614.5V1199M476.6 614.5V1199M640.25 614.5V1199M803.9 614.5V1199M967.55 614.5V1199M1131.2 614.5V1199M96 1170.3H1253.3M96 1103.69H1253.3M96 1037.08H1253.3M96 970.46H1253.3M96 903.85H1253.3M96 837.24H1253.3M96 770.62H1253.3M96 704.01H1253.3M96 637.4H1253.3" stroke="#b9b9b9" stroke-width="1.05" fill="none"/>
<g clip-path="url(#ax1)">
<path d="M151.92 1170.3H169.59M151.92 1168.7V1171.9M169.59 1168.7V1171.9M179.74 1114.08H197.41M179.74 1112.48V1115.68M197.41 1112.48V1115.68M270.84 918.05H289.04M270.84 916.45V919.65M289.04 916.45V919.65M284.74 887.52H303.59M284.74 885.92V889.12M303.59 885.92V889.12M285.37 895.22H304.23M285.37 893.62V896.82M304.23 893.62V896.82M305.21 890.37H324.19M305.21 888.77V891.97M324.19 888.77V891.97M305.09 891.91H324.08M305.09 890.31V893.51M324.08 890.31V893.51M304.28 893.3H323.26M304.28 891.7V894.9M323.26 891.7V894.9M304.39 903.72H323.37M304.39 902.12V905.32M323.37 902.12V905.32M297.73 894.52H316.71M297.73 892.92V896.12M316.71 892.92V896.12M323.28 884.05H342.59M323.28 882.45V885.65M342.59 882.45V885.65M338.77 867.88H358.22M338.77 866.28V869.48M358.22 866.28V869.48M405.58 862.39H426.2M405.58 860.79V863.99M426.2 860.79V863.99M472.84 834.09H494.44M472.84 832.49V835.69M494.44 832.49V835.69M629.29 790.61H655.14M629.29 789.01V792.21M655.14 789.01V792.21M721.19 770.31H750.98M721.19 768.71V771.91M750.98 768.71V771.91M792.61 738.7H822.39M792.61 737.1V740.3M822.39 737.1V740.3M806.42 721.78H840M806.42 720.18V723.38M840 720.18V723.38M1073.92 700.39H1116.8M1073.92 698.79V701.99M1116.8 698.79V701.99" stroke="#3b528b" stroke-width="0.95" fill="none" stroke-opacity="0.8"/>
<g fill="#3b528b"><circle cx="160.76" cy="1170.3" r="4.05"/><circle cx="188.58" cy="1114.08" r="4.05"/><circle cx="279.94" cy="918.05" r="4.05"/><circle cx="294.16" cy="887.52" r="4.05"/><circle cx="294.8" cy="895.22" r="4.05"/><circle cx="314.7" cy="890.37" r="4.05"/><circle cx="314.59" cy="891.91" r="4.05"/><circle cx="313.77" cy="893.3" r="4.05"/><circle cx="313.88" cy="903.72" r="4.05"/><circle cx="307.22" cy="894.52" r="4.05"/><circle cx="332.93" cy="884.05" r="4.05"/><circle cx="348.49" cy="867.88" r="4.05"/><circle cx="415.89" cy="862.39" r="4.05"/><circle cx="483.64" cy="834.09" r="4.05"/><circle cx="642.21" cy="790.61" r="4.05"/><circle cx="736.08" cy="770.31" r="4.05"/><circle cx="807.5" cy="738.7" r="4.05"/><circle cx="823.21" cy="721.78" r="4.05"/><circle cx="1095.36" cy="700.39" r="4.05"/></g>
<polyline points="160.76,1170.3 292.69,891.03 321.41,896.18 351.13,865.08 1096.9,678.89" fill="none" stroke="#3b528b" stroke-width="3.1" stroke-linejoin="miter" stroke-linecap="butt"/>
<polyline points="149.3,1141.6 302.53,896.66 546.97,805.8 1114.34,640.49" fill="none" stroke="#21918c" stroke-width="3.1" stroke-linejoin="miter" stroke-linecap="butt"/>
<path d="M151.92 1170.3H169.59M151.92 1168.7V1171.9M169.59 1168.7V1171.9M179.74 1114.08H197.41M179.74 1112.48V1115.68M197.41 1112.48V1115.68M268.57 918.05H285.16M268.57 916.45V919.65M285.16 916.45V919.65M281.69 887.52H298.39M281.69 885.92V889.12M298.39 885.92V889.12M282.27 895.22H298.96M282.27 893.62V896.82M298.96 893.62V896.82M300.76 890.26H317.45M300.76 888.66V891.86M317.45 888.66V891.86M300.48 891.78H317.17M300.48 890.18V893.38M317.17 890.18V893.38M299.37 893.27H316.06M299.37 891.67V894.87M316.06 891.67V894.87M300.04 903.64H316.73M300.04 902.04V905.24M316.73 902.04V905.24M294.39 894.52H311.08M294.39 892.92V896.12M311.08 892.92V896.12M317.53 884.21H334.42M317.53 882.61V885.81M334.42 882.61V885.81M332.03 867.88H349.05M332.03 866.28V869.48M349.05 866.28V869.48M394.45 862.39H412.45M394.45 860.79V863.99M412.45 860.79V863.99M467.44 834.09H487.07M467.44 832.49V835.69M487.07 832.49V835.69M603.43 790.61H623.72M603.43 789.01V792.21M623.72 789.01V792.21M685.81 770.31H715.59M685.81 768.71V771.91M715.59 768.71V771.91M753.17 738.7H780.99M753.17 737.1V740.3M780.99 737.1V740.3M766.02 721.78H797.6M766.02 720.18V723.38M797.6 720.18V723.38M1015.76 700.39H1053.73M1015.76 698.79V701.99M1053.73 698.79V701.99" stroke="#5ec962" stroke-width="0.95" fill="none" stroke-opacity="0.8"/>
<path d="M157.16 1166.7l7.2 7.2m0 -7.2l-7.2 7.2M184.98 1110.48l7.2 7.2m0 -7.2l-7.2 7.2M273.27 914.45l7.2 7.2m0 -7.2l-7.2 7.2M286.44 883.92l7.2 7.2m0 -7.2l-7.2 7.2M287.01 891.62l7.2 7.2m0 -7.2l-7.2 7.2M305.5 886.66l7.2 7.2m0 -7.2l-7.2 7.2M305.23 888.18l7.2 7.2m0 -7.2l-7.2 7.2M304.11 889.67l7.2 7.2m0 -7.2l-7.2 7.2M304.78 900.04l7.2 7.2m0 -7.2l-7.2 7.2M299.14 890.92l7.2 7.2m0 -7.2l-7.2 7.2M322.38 880.61l7.2 7.2m0 -7.2l-7.2 7.2M336.94 864.28l7.2 7.2m0 -7.2l-7.2 7.2M399.85 858.79l7.2 7.2m0 -7.2l-7.2 7.2M473.65 830.49l7.2 7.2m0 -7.2l-7.2 7.2M609.98 787.01l7.2 7.2m0 -7.2l-7.2 7.2M697.1 766.71l7.2 7.2m0 -7.2l-7.2 7.2M763.48 735.1l7.2 7.2m0 -7.2l-7.2 7.2M778.21 718.18l7.2 7.2m0 -7.2l-7.2 7.2M1031.14 696.79l7.2 7.2m0 -7.2l-7.2 7.2" stroke="#5ec962" stroke-width="1.6" fill="none"/>
<polyline points="160.76,1170.3 289.43,891.27 315.4,896.02 342.9,865.08 1036.5,678.89" fill="none" stroke="#5ec962" stroke-width="3.1" stroke-linejoin="miter" stroke-linecap="butt"/>
</g>
<g stroke="#4a4a4a" stroke-width="1" fill="none">
<rect x="260.58" y="850.56" width="101.46" height="71.94"/>
<path d="M362.04 850.56L1194.4 918.5M260.58 922.5L732.4 1151.9"/>
</g>
<rect x="96" y="614.5" width="1157.3" height="584.5" fill="none" stroke="#2a2a2a" stroke-width="1.2"/>
<path d="M149.3 1199v4.5M312.95 1199v4.5M476.6 1199v4.5M640.25 1199v4.5M803.9 1199v4.5M967.55 1199v4.5M1131.2 1199v4.5M96 1170.3h-4.5M96 1103.69h-4.5M96 1037.08h-4.5M96 970.46h-4.5M96 903.85h-4.5M96 837.24h-4.5M96 770.62h-4.5M96 704.01h-4.5M96 637.4h-4.5" stroke="#000" stroke-width="1.1" fill="none"/>
<text x="40.48" y="1178.25" font-size="23.03" fill="#000" stroke="#000" stroke-width="0.1" textLength="47.13" lengthAdjust="spacingAndGlyphs">0.00</text>
<text x="40.49" y="1111.64" font-size="23.03" fill="#000" stroke="#000" stroke-width="0.1" textLength="46.73" lengthAdjust="spacingAndGlyphs">0.25</text>
<text x="40.48" y="1045.03" font-size="23.03" fill="#000" stroke="#000" stroke-width="0.1" textLength="47.13" lengthAdjust="spacingAndGlyphs">0.50</text>
<text x="40.49" y="978.41" font-size="23.03" fill="#000" stroke="#000" stroke-width="0.1" textLength="46.73" lengthAdjust="spacingAndGlyphs">0.75</text>
<text x="40.53" y="911.8" font-size="23.03" fill="#000" stroke="#000" stroke-width="0.1" textLength="47.08" lengthAdjust="spacingAndGlyphs">1.00</text>
<text x="40.55" y="845.19" font-size="23.03" fill="#000" stroke="#000" stroke-width="0.1" textLength="46.67" lengthAdjust="spacingAndGlyphs">1.25</text>
<text x="40.53" y="778.58" font-size="23.03" fill="#000" stroke="#000" stroke-width="0.1" textLength="47.08" lengthAdjust="spacingAndGlyphs">1.50</text>
<text x="40.55" y="711.96" font-size="23.03" fill="#000" stroke="#000" stroke-width="0.1" textLength="46.67" lengthAdjust="spacingAndGlyphs">1.75</text>
<text x="40.37" y="645.35" font-size="23.03" fill="#000" stroke="#000" stroke-width="0.1" textLength="47.25" lengthAdjust="spacingAndGlyphs">2.00</text>
<text x="-114.52" y="0" font-size="23.35" fill="#000" stroke="#000" stroke-width="0.1" textLength="229.21" lengthAdjust="spacingAndGlyphs" transform="translate(30.3 907.55) rotate(-90)">Stopping power ratio</text>
<text x="113.79" y="1223.3" font-size="23.03" fill="#000" stroke="#000" stroke-width="0.1" textLength="71.6" lengthAdjust="spacingAndGlyphs">−1000</text>
<text x="306.61" y="1223.3" font-size="23.03" fill="#000" stroke="#000" stroke-width="0.1" textLength="12.66" lengthAdjust="spacingAndGlyphs">0</text>
<text x="449.64" y="1223.3" font-size="23.03" fill="#000" stroke="#000" stroke-width="0.1" textLength="53.96" lengthAdjust="spacingAndGlyphs">1000</text>
<text x="613.12" y="1223.3" font-size="23.03" fill="#000" stroke="#000" stroke-width="0.1" textLength="54.13" lengthAdjust="spacingAndGlyphs">2000</text>
<text x="777.14" y="1223.3" font-size="23.03" fill="#000" stroke="#000" stroke-width="0.1" textLength="53.76" lengthAdjust="spacingAndGlyphs">3000</text>
<text x="940.56" y="1223.3" font-size="23.03" fill="#000" stroke="#000" stroke-width="0.1" textLength="53.99" lengthAdjust="spacingAndGlyphs">4000</text>
<text x="1104.41" y="1223.3" font-size="23.03" fill="#000" stroke="#000" stroke-width="0.1" textLength="53.78" lengthAdjust="spacingAndGlyphs">5000</text>
<text x="586.5" y="1249.3" font-size="23.35" fill="#000" stroke="#000" stroke-width="0.1" textLength="174.84" lengthAdjust="spacingAndGlyphs">CT number / HU</text>
<rect x="105.8" y="623.9" width="350.5" height="122.5" rx="3.2" fill="#fff" fill-opacity="0.8" stroke="#cccccc" stroke-opacity="0.9" stroke-width="1.1"/>
<text x="113.62" y="646.9" font-size="21" fill="#000" stroke="#000" stroke-width="0.1" textLength="134.8" lengthAdjust="spacingAndGlyphs">Measurement</text>
<text x="425.47" y="646.9" font-size="21" fill="#000" stroke="#000" stroke-width="0.1" textLength="22.51" lengthAdjust="spacingAndGlyphs">Fit</text>
<text x="168.89" y="675.7" font-size="21" fill="#3b528b" stroke="#3b528b" stroke-width="0.1" textLength="173.47" lengthAdjust="spacingAndGlyphs">Empirical method</text>
<path d="M424.2 669.5H448.8" stroke="#3b528b" stroke-width="1.9"/>
<text x="169.07" y="704.9" font-size="21" fill="#21918c" stroke="#21918c" stroke-width="0.1" textLength="223.77" lengthAdjust="spacingAndGlyphs">Stoichiometric method</text>
<path d="M424.2 698.7H448.8" stroke="#21918c" stroke-width="1.9"/>
<text x="168.67" y="734.1" font-size="21" fill="#5ec962" stroke="#5ec962" stroke-width="0.1" textLength="205.37" lengthAdjust="spacingAndGlyphs">Influence animal box</text>
<path d="M424.2 727.5H448.8" stroke="#5ec962" stroke-width="1.9"/>
<circle cx="133.6" cy="670.9" r="4.05" fill="#3b528b"/>
<path d="M133.6 694.25l3.8 5.85l-3.8 5.85l-3.8 -5.85z" fill="#21918c"/>
<path d="M130 725.4l7.2 7.2m0 -7.2l-7.2 7.2" stroke="#5ec962" stroke-width="1.6" fill="none"/>
<rect x="732.4" y="918.5" width="462" height="233.4" fill="#fff"/>
<g clip-path="url(#in1)">
<path d="M225.69 1950.08l3.65 5.75l-3.65 5.75l-3.65 -5.75zM354.08 1778.06l3.65 5.75l-3.65 5.75l-3.65 -5.75zM733.89 1147.45l3.65 5.75l-3.65 5.75l-3.65 -5.75zM761.91 1131.71l3.65 5.75l-3.65 5.75l-3.65 -5.75zM764.44 1105.61l3.65 5.75l-3.65 5.75l-3.65 -5.75zM797.45 1115.55l3.65 5.75l-3.65 5.75l-3.65 -5.75zM814.22 1100.33l3.65 5.75l-3.65 5.75l-3.65 -5.75zM786.8 1077.43l3.65 5.75l-3.65 5.75l-3.65 -5.75zM776.36 1046.83l3.65 5.75l-3.65 5.75l-3.65 -5.75zM881.51 1051.32l3.65 5.75l-3.65 5.75l-3.65 -5.75zM883.3 1069.21l3.65 5.75l-3.65 5.75l-3.65 -5.75zM889.26 1076.13l3.65 5.75l-3.65 5.75l-3.65 -5.75zM871.67 1098.61l3.65 5.75l-3.65 5.75l-3.65 -5.75zM911.16 1062.3l3.65 5.75l-3.65 5.75l-3.65 -5.75zM915.86 1067.14l3.65 5.75l-3.65 5.75l-3.65 -5.75zM937.17 1057.37l3.65 5.75l-3.65 5.75l-3.65 -5.75zM955.95 1050.37l3.65 5.75l-3.65 5.75l-3.65 -5.75zM963.85 1060.22l3.65 5.75l-3.65 5.75l-3.65 -5.75zM1038.88 962.46l3.65 5.75l-3.65 5.75l-3.65 -5.75zM1013.85 998.94l3.65 5.75l-3.65 5.75l-3.65 -5.75zM973.31 1020.11l3.65 5.75l-3.65 5.75l-3.65 -5.75zM987.1 1019.42l3.65 5.75l-3.65 5.75l-3.65 -5.75zM1002.6 1018.64l3.65 5.75l-3.65 5.75l-3.65 -5.75zM1008.85 1035.76l3.65 5.75l-3.65 5.75l-3.65 -5.75zM1074.43 1013.89l3.65 5.75l-3.65 5.75l-3.65 -5.75zM1087.17 1013.89l3.65 5.75l-3.65 5.75l-3.65 -5.75zM967.57 1066.45l3.65 5.75l-3.65 5.75l-3.65 -5.75zM986.35 1064.46l3.65 5.75l-3.65 5.75l-3.65 -5.75zM1005.58 1071.98l3.65 5.75l-3.65 5.75l-3.65 -5.75zM989.33 1079.5l3.65 5.75l-3.65 5.75l-3.65 -5.75zM970.11 1039.48l3.65 5.75l-3.65 5.75l-3.65 -5.75zM1006.32 1050.72l3.65 5.75l-3.65 5.75l-3.65 -5.75zM972.34 1046.74l3.65 5.75l-3.65 5.75l-3.65 -5.75zM976.81 1051.06l3.65 5.75l-3.65 5.75l-3.65 -5.75zM979.79 1055.38l3.65 5.75l-3.65 5.75l-3.65 -5.75zM984.26 1048.47l3.65 5.75l-3.65 5.75l-3.65 -5.75zM989.48 1044.15l3.65 5.75l-3.65 5.75l-3.65 -5.75zM993.21 1052.79l3.65 5.75l-3.65 5.75l-3.65 -5.75zM996.93 1046.74l3.65 5.75l-3.65 5.75l-3.65 -5.75zM1000.66 1040.69l3.65 5.75l-3.65 5.75l-3.65 -5.75zM1002.89 1055.38l3.65 5.75l-3.65 5.75l-3.65 -5.75zM991.72 1059.71l3.65 5.75l-3.65 5.75l-3.65 -5.75zM982.03 1040.69l3.65 5.75l-3.65 5.75l-3.65 -5.75zM968.62 1052.79l3.65 5.75l-3.65 5.75l-3.65 -5.75zM999.17 1049.33l3.65 5.75l-3.65 5.75l-3.65 -5.75zM1319.89 951.65l3.65 5.75l-3.65 5.75l-3.65 -5.75zM1402.75 935.57l3.65 5.75l-3.65 5.75l-3.65 -5.75zM1582.18 837.02l3.65 5.75l-3.65 5.75l-3.65 -5.75zM1630.32 873.85l3.65 5.75l-3.65 5.75l-3.65 -5.75zM1655.65 869.53l3.65 5.75l-3.65 5.75l-3.65 -5.75zM1732.41 837.02l3.65 5.75l-3.65 5.75l-3.65 -5.75zM1759.23 835.38l3.65 5.75l-3.65 5.75l-3.65 -5.75zM1836.36 814.2l3.65 5.75l-3.65 5.75l-3.65 -5.75zM1873.99 800.37l3.65 5.75l-3.65 5.75l-3.65 -5.75zM1905.28 792.16l3.65 5.75l-3.65 5.75l-3.65 -5.75zM1920.19 789.57l3.65 5.75l-3.65 5.75l-3.65 -5.75zM1966.39 775.65l3.65 5.75l-3.65 5.75l-3.65 -5.75zM1980.17 771.41l3.65 5.75l-3.65 5.75l-3.65 -5.75zM1998.43 767.52l3.65 5.75l-3.65 5.75l-3.65 -5.75zM2029.5 761.65l3.65 5.75l-3.65 5.75l-3.65 -5.75zM2109.91 741.24l3.65 5.75l-3.65 5.75l-3.65 -5.75zM2129.58 741.24l3.65 5.75l-3.65 5.75l-3.65 -5.75zM2213.78 718.25l3.65 5.75l-3.65 5.75l-3.65 -5.75zM2286.06 693.61l3.65 5.75l-3.65 5.75l-3.65 -5.75zM2297.61 681.51l3.65 5.75l-3.65 5.75l-3.65 -5.75zM2547.17 626.36l3.65 5.75l-3.65 5.75l-3.65 -5.75zM2736.44 574.49l3.65 5.75l-3.65 5.75l-3.65 -5.75zM2837.48 604.66l3.65 5.75l-3.65 5.75l-3.65 -5.75zM2948.14 522.89l3.65 5.75l-3.65 5.75l-3.65 -5.75zM3128.62 485.89l3.65 5.75l-3.65 5.75l-3.65 -5.75zM3384.06 418.72l3.65 5.75l-3.65 5.75l-3.65 -5.75zM3431.37 394.08l3.65 5.75l-3.65 5.75l-3.65 -5.75zM4612.83 330.55l3.65 5.75l-3.65 5.75l-3.65 -5.75z" fill="#21918c"/>
<path d="M237.61 1955.83H318.09M237.61 1954.23V1957.43M318.09 1954.23V1957.43M364.29 1773.44H444.77M364.29 1771.84V1775.04M444.77 1771.84V1775.04M779.12 1137.46H861.98M779.12 1135.86V1139.06M861.98 1135.86V1139.06M842.39 1038.4H928.23M842.39 1036.8V1040M928.23 1036.8V1040M885.31 1031.66V1045.14M883.71 1031.66H886.91M883.71 1045.14H886.91M845.29 1063.38H931.13M845.29 1061.78V1064.98M931.13 1061.78V1064.98M935.61 1047.65H1022.04M935.61 1046.05V1049.25M1022.04 1046.05V1049.25M978.82 1042.46V1052.83M977.22 1042.46H980.42M977.22 1052.83H980.42M935.08 1052.66H1021.52M935.08 1051.06V1054.26M1021.52 1051.06V1054.26M931.36 1057.16H1017.8M931.36 1055.56V1058.76M1017.8 1055.56V1058.76M931.88 1090.96H1018.32M931.88 1089.36V1092.56M1018.32 1089.36V1092.56M975.1 1084.65V1097.27M973.5 1084.65H976.7M973.5 1097.27H976.7M901.55 1061.13H987.99M901.55 1059.53V1062.73M987.99 1059.53V1062.73M1017.87 1027.16H1105.8M1017.87 1025.56V1028.76M1105.8 1025.56V1028.76M1088.44 974.69H1176.96M1088.44 973.09V976.29M1176.96 973.09V976.29M1132.7 968.64V980.74M1131.1 968.64H1134.3M1131.1 980.74H1134.3M1392.61 956.88H1486.5M1392.61 955.28V958.48M1486.5 955.28V958.48M1698.87 865.08H1797.24M1698.87 863.48V866.68M1797.24 863.48V866.68M2411.25 724H2528.98M2411.25 722.4V725.6M2528.98 722.4V725.6M2829.73 658.13H2965.35M2829.73 656.53V659.73M2965.35 656.53V659.73M3154.92 555.61H3290.54M3154.92 554.01V557.21M3290.54 554.01V557.21M3217.81 500.71H3370.72M3217.81 499.11V502.31M3370.72 499.11V502.31M4435.85 431.3H4631.08M4435.85 429.7V432.9M4631.08 429.7V432.9" stroke="#3b528b" stroke-width="0.95" fill="none" stroke-opacity="0.8"/>
<g fill="#3b528b"><circle cx="277.85" cy="1955.83" r="4.05"/><circle cx="404.53" cy="1773.44" r="4.05"/><circle cx="820.55" cy="1137.46" r="4.05"/><circle cx="885.31" cy="1038.4" r="4.05"/><circle cx="888.21" cy="1063.38" r="4.05"/><circle cx="978.82" cy="1047.65" r="4.05"/><circle cx="978.3" cy="1052.66" r="4.05"/><circle cx="974.58" cy="1057.16" r="4.05"/><circle cx="975.1" cy="1090.96" r="4.05"/><circle cx="944.77" cy="1061.13" r="4.05"/><circle cx="1061.84" cy="1027.16" r="4.05"/><circle cx="1132.7" cy="974.69" r="4.05"/><circle cx="1439.56" cy="956.88" r="4.05"/><circle cx="1748.05" cy="865.08" r="4.05"/><circle cx="2470.12" cy="724" r="4.05"/><circle cx="2897.54" cy="658.13" r="4.05"/><circle cx="3222.73" cy="555.61" r="4.05"/><circle cx="3294.26" cy="500.71" r="4.05"/><circle cx="4533.47" cy="431.3" r="4.05"/></g>
<polyline points="277.85,1955.83 878.6,1049.81 1009.38,1066.49 1144.7,965.61 4540.47,361.54" fill="none" stroke="#3b528b" stroke-width="3.1" stroke-linejoin="miter" stroke-linecap="butt"/>
<polyline points="225.69,1862.73 923.38,1068.05 2036.43,773.27 4619.91,236.97" fill="none" stroke="#21918c" stroke-width="3.1" stroke-linejoin="miter" stroke-linecap="butt"/>
<path d="M237.61 1955.83H318.09M237.61 1954.23V1957.43M318.09 1954.23V1957.43M364.29 1773.44H444.77M364.29 1771.84V1775.04M444.77 1771.84V1775.04M768.76 1137.46H844.32M768.76 1135.86V1139.06M844.32 1135.86V1139.06M828.53 1038.4H904.53M828.53 1036.8V1040M904.53 1036.8V1040M866.53 1031.66V1045.14M864.93 1031.66H868.13M864.93 1045.14H868.13M831.13 1063.38H907.14M831.13 1061.78V1064.98M907.14 1061.78V1064.98M915.34 1047.3H991.34M915.34 1045.7V1048.9M991.34 1045.7V1048.9M953.34 1042.12V1052.49M951.74 1042.12H954.94M951.74 1052.49H954.94M914.07 1052.23H990.08M914.07 1050.63V1053.83M990.08 1050.63V1053.83M909 1057.07H985.01M909 1055.47V1058.67M985.01 1055.47V1058.67M912.06 1090.7H988.06M912.06 1089.1V1092.3M988.06 1089.1V1092.3M950.06 1084.39V1097.01M948.46 1084.39H951.66M948.46 1097.01H951.66M886.35 1061.13H962.36M886.35 1059.53V1062.73M962.36 1059.53V1062.73M991.72 1027.68H1068.62M991.72 1026.08V1029.28M1068.62 1026.08V1029.28M1057.74 974.69H1135.23M1057.74 973.09V976.29M1135.23 973.09V976.29M1096.49 968.64V980.74M1094.89 968.64H1098.09M1094.89 980.74H1098.09M1341.94 956.88H1423.91M1341.94 955.28V958.48M1423.91 955.28V958.48M1674.28 865.08H1763.7M1674.28 863.48V866.68M1763.7 863.48V866.68M2293.51 724H2385.91M2293.51 722.4V725.6M2385.91 722.4V725.6M2668.63 658.13H2804.25M2668.63 656.53V659.73M2804.25 656.53V659.73M2975.34 555.61H3102.01M2975.34 554.01V557.21M3102.01 554.01V557.21M3033.83 500.71H3177.65M3033.83 499.11V502.31M3177.65 499.11V502.31M4171.02 431.3H4343.9M4171.02 429.7V432.9M4343.9 429.7V432.9" stroke="#5ec962" stroke-width="0.95" fill="none" stroke-opacity="0.8"/>
<path d="M274.25 1952.23l7.2 7.2m0 -7.2l-7.2 7.2M400.93 1769.84l7.2 7.2m0 -7.2l-7.2 7.2M802.94 1133.86l7.2 7.2m0 -7.2l-7.2 7.2M862.93 1034.8l7.2 7.2m0 -7.2l-7.2 7.2M865.54 1059.78l7.2 7.2m0 -7.2l-7.2 7.2M949.74 1043.7l7.2 7.2m0 -7.2l-7.2 7.2M948.47 1048.63l7.2 7.2m0 -7.2l-7.2 7.2M943.41 1053.47l7.2 7.2m0 -7.2l-7.2 7.2M946.46 1087.1l7.2 7.2m0 -7.2l-7.2 7.2M920.75 1057.53l7.2 7.2m0 -7.2l-7.2 7.2M1026.57 1024.08l7.2 7.2m0 -7.2l-7.2 7.2M1092.89 971.09l7.2 7.2m0 -7.2l-7.2 7.2M1379.33 953.28l7.2 7.2m0 -7.2l-7.2 7.2M1715.39 861.48l7.2 7.2m0 -7.2l-7.2 7.2M2336.11 720.4l7.2 7.2m0 -7.2l-7.2 7.2M2732.84 654.53l7.2 7.2m0 -7.2l-7.2 7.2M3035.07 552.01l7.2 7.2m0 -7.2l-7.2 7.2M3102.14 497.11l7.2 7.2m0 -7.2l-7.2 7.2M4253.86 427.7l7.2 7.2m0 -7.2l-7.2 7.2" stroke="#5ec962" stroke-width="1.6" fill="none"/>
<polyline points="277.85,1955.83 863.77,1050.59 982.03,1065.97 1107.22,965.61 4265.43,361.54" fill="none" stroke="#5ec962" stroke-width="3.1" stroke-linejoin="miter" stroke-linecap="butt"/>
</g>
<rect x="732.4" y="918.5" width="462" height="233.4" fill="none" stroke="#2b2b2b" stroke-width="1.2"/>
<path d="M747.3 1151.9v4.5M821.82 1151.9v4.5M896.34 1151.9v4.5M970.85 1151.9v4.5M1045.37 1151.9v4.5M1119.88 1151.9v4.5M1194.4 1151.9v4.5M732.4 1091.39h-4.5M732.4 1004.94h-4.5M732.4 918.5h-4.5" stroke="#000" stroke-width="1.1" fill="none"/>
<text x="718.66" y="1176.6" font-size="23.03" fill="#000" stroke="#000" stroke-width="0.1" textLength="57.88" lengthAdjust="spacingAndGlyphs">−300</text>
<text x="793.18" y="1176.6" font-size="23.03" fill="#000" stroke="#000" stroke-width="0.1" textLength="57.88" lengthAdjust="spacingAndGlyphs">−200</text>
<text x="867.69" y="1176.6" font-size="23.03" fill="#000" stroke="#000" stroke-width="0.1" textLength="57.88" lengthAdjust="spacingAndGlyphs">−100</text>
<text x="964.51" y="1176.6" font-size="23.03" fill="#000" stroke="#000" stroke-width="0.1" textLength="12.66" lengthAdjust="spacingAndGlyphs">0</text>
<text x="1025.29" y="1176.6" font-size="23.03" fill="#000" stroke="#000" stroke-width="0.1" textLength="40.2" lengthAdjust="spacingAndGlyphs">100</text>
<text x="1099.64" y="1176.6" font-size="23.03" fill="#000" stroke="#000" stroke-width="0.1" textLength="40.38" lengthAdjust="spacingAndGlyphs">200</text>
<text x="1174.52" y="1176.6" font-size="23.03" fill="#000" stroke="#000" stroke-width="0.1" textLength="40" lengthAdjust="spacingAndGlyphs">300</text>
<text x="690.49" y="1099.34" font-size="23.03" fill="#000" stroke="#000" stroke-width="0.1" textLength="33.31" lengthAdjust="spacingAndGlyphs">1.0</text>
<text x="690.51" y="1012.89" font-size="23.03" fill="#000" stroke="#000" stroke-width="0.1" textLength="32.95" lengthAdjust="spacingAndGlyphs">1.1</text>
<text x="690.52" y="926.45" font-size="23.03" fill="#000" stroke="#000" stroke-width="0.1" textLength="32.8" lengthAdjust="spacingAndGlyphs">1.2</text>
<rect x="0.5" y="0.5" width="1266" height="1266" fill="none" stroke="#dadada" stroke-width="1"/>
<path d="M0 0h1v1h-1zM1266 0h1v1h-1zM0 1266h1v1h-1zM1266 1266h1v1h-1z" fill="#fff"/>
<rect x="2.5" y="2.5" width="1262" height="1262" fill="none" stroke="#000" stroke-width="3"/>
</svg>
</body></html>
